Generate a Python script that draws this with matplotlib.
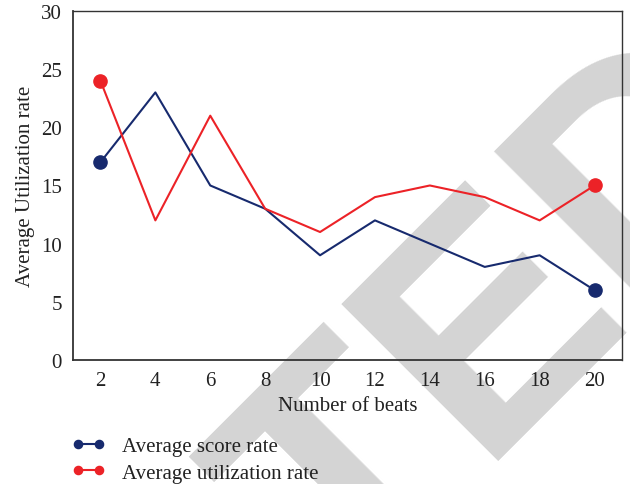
import matplotlib

matplotlib.use("Agg")

import matplotlib.pyplot as plt

# Data
beats = [2, 4, 6, 8, 10, 12, 14, 16, 18, 20]
score_rate = [17, 23, 15, 13, 9, 12, 10, 8, 9, 6]
utilization_rate = [24, 12, 21, 13, 11, 14, 15, 14, 12, 15]
y_ticks = [0, 5, 10, 15, 20, 25, 30]

NAVY = "#172a6e"
RED = "#ec2227"
SERIF = ["Liberation Serif", "DejaVu Serif"]


def main():
    plt.rcParams["font.family"] = SERIF
    fig = plt.figure(figsize=(6.3, 4.85), dpi=100)
    fig.patch.set_facecolor("white")

    # retraction watermark behind everything
    fig.text(1.262, 0.706, "RETRACTED", transform=fig.transFigure, rotation=45,
             rotation_mode="anchor", ha="right", va="baseline", fontsize=233,
             family=["Liberation Sans", "DejaVu Sans"], weight="bold",
             color="#d4d4d4", zorder=-5)

    ax = fig.add_axes([0.1159, 0.2557, 0.8714, 0.7196])
    ax.patch.set_alpha(0)

    ax.plot(beats, score_rate, color=NAVY, lw=1.5, marker="o", ms=9.5,
            markevery=[0, len(beats) - 1], label="Average score rate")
    ax.plot(beats, utilization_rate, color=RED, lw=1.5, marker="o", ms=9.5,
            markevery=[0, len(beats) - 1], label="Average utilization rate")

    ax.set_xlim(1, 21)
    ax.set_ylim(0, 30)
    ax.set_xticks(beats)
    ax.set_yticks(y_ticks)
    ax.tick_params(length=0, labelsize=15, colors="#222222", pad=8)
    for side in ["left", "bottom", "right", "top"]:
        ax.spines[side].set_color("#333333")
        ax.spines[side].set_linewidth(1.0)
    ax.spines["left"].set_linewidth(1.3)
    ax.spines["bottom"].set_linewidth(1.3)

    ax.set_xlabel("Number of beats", fontsize=15, color="#222222", labelpad=4)
    ax.set_ylabel("Average Utilization rate", fontsize=15, color="#222222", labelpad=4)

    fig.legend(loc="upper left", bbox_to_anchor=(0.097, 0.119), frameon=False,
               fontsize=15, numpoints=2, markerscale=0.62, handlelength=1.6,
               handletextpad=0.8, labelspacing=0.33, borderpad=0,
               labelcolor="#222222")

    fig.savefig("out.png", dpi=100)


if __name__ == "__main__":
    main()
